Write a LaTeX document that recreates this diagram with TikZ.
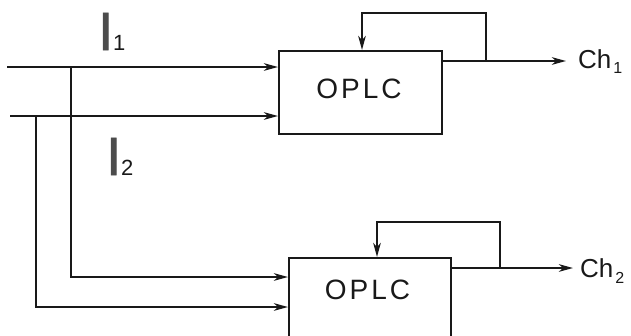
\documentclass[tikz,border=0pt]{standalone}
\usepackage{fontspec}
\setmainfont{Liberation Sans}
\usetikzlibrary{arrows.meta}
\begin{document}
\begin{tikzpicture}[x=1pt,y=-1pt,
  wire/.style={line width=2.2pt,draw=black!90},
  arr/.style={wire,-{Stealth[length=14pt,width=7.5pt,inset=4pt]}},
  blk/.style={wire,rectangle,minimum width=163pt,minimum height=83pt,inner sep=0pt,anchor=north west},
  blktext/.style={inner sep=0pt,font=\fontsize{28}{28}\selectfont,text=black!90},
  outtext/.style={inner sep=0pt,anchor=base west,font=\fontsize{26}{26}\selectfont,text=black!90},
  intext/.style={inner sep=0pt,anchor=base west,text=black!90}]
\useasboundingbox (0,0) rectangle (631,335);
\clip (0,0) rectangle (631,335);
% blocks
\node[blk] (box1) at (278,50) {};
\node[blk,minimum width=162pt] (box2) at (288,257) {};
\node[blktext] (t1) at (359,89) {O\kern3pt P\kern3pt L\kern3pt C};
\node[blktext] (t2) at (367.5,289.5) {O\kern3pt P\kern3pt L\kern3pt C};
% input labels
\node[intext] (i1) at (98,50) {{\fontsize{54}{54}\selectfont\addfontfeature{FakeBold=1.2}\color{black!70}I}{\fontsize{22}{22}\selectfont 1}};
\node[intext] (i2) at (106,175) {{\fontsize{54}{54}\selectfont\addfontfeature{FakeBold=1.2}\color{black!70}I}{\fontsize{22}{22}\selectfont 2}};
% output labels
\node[outtext] (ch1) at (578,68) {Ch\raisebox{-5pt}{\fontsize{16}{16}\selectfont\kern2pt 1}};
\node[outtext] (ch2) at (580,277) {Ch\raisebox{-6pt}{\fontsize{16}{16}\selectfont\kern2pt 2}};
% coordinates
\coordinate (in1) at (7,67);
\coordinate (in2) at (10,116);
\coordinate (b1) at (71,67);
\coordinate (b2) at (36,116);
\coordinate (e1) at (278,67);
\coordinate (e2) at (278,116);
\coordinate (e3) at (288,277);
\coordinate (e4) at (288,307);
\coordinate (o1) at (441,61);
\coordinate (f1) at (486,61);
\coordinate (x1) at (566,61);
\coordinate (g1) at (362,13);
\coordinate (o2) at (450,268);
\coordinate (f2) at (500,268);
\coordinate (x2) at (573,268);
\coordinate (g2) at (377,222);
% input wires
\draw[arr] (in1) -- (e1);
\draw[arr] (in2) -- (e2);
\draw[arr] (b1) |- (e3);
\draw[arr] (b2) |- (e4);
% outputs and feedback
\draw[arr] (o1) -- (x1);
\draw[arr] (f1) |- (g1) -- (g1 |- box1.north);
\draw[arr] (o2) -- (x2);
\draw[arr] (f2) |- (g2) -- (g2 |- box2.north);
\end{tikzpicture}
\end{document}
